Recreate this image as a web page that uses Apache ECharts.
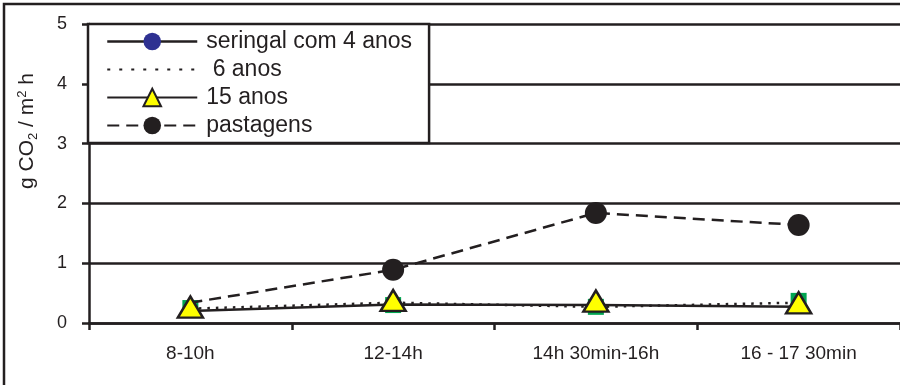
<!DOCTYPE html>
<html>
<head>
<meta charset="utf-8">
<script src="https://cdn.jsdelivr.net/npm/echarts@6/dist/echarts.min.js"></script>
<style>html,body{margin:0;padding:0;background:#fff;}#c{width:900px;height:385px;}</style>
</head>
<body>
<div id="c"></div>
<script>
var categories = ['8-10h', '12-14h', '14h 30min-16h', '16 - 17 30min'];
var seringal4 = [0.25, 0.30, 0.27, 0.37];
var anos6 = [0.24, 0.34, 0.27, 0.34];
var anos15 = [0.20, 0.31, 0.30, 0.27];
var pastagens = [0.34, 0.89, 1.84, 1.64];
var yTicks = [0, 1, 2, 3, 4, 5];

var ink = '#231f20';
var font = 'Liberation Sans, Arial, sans-serif';

var chart = echarts.init(document.getElementById('c'), null, {renderer: 'canvas'});
chart.setOption({
  animation: false,
  backgroundColor: '#fff',
  textStyle: {fontFamily: font, color: ink},
  grid: {left: 89, top: 24, width: 820, height: 299},
  xAxis: {
    type: 'category',
    data: categories,
    boundaryGap: true,
    axisLine: {lineStyle: {color: ink, width: 2.5}},
    axisTick: {show: true, length: 7, lineStyle: {color: ink, width: 2.5}},
    axisLabel: {fontSize: 19, color: ink, margin: 21, fontFamily: font}
  },
  yAxis: {
    type: 'value',
    min: yTicks[0], max: yTicks[yTicks.length - 1], interval: 1,
    axisLine: {show: true, lineStyle: {color: ink, width: 2.5}},
    axisTick: {show: true, length: 7, lineStyle: {color: ink, width: 2.5}},
    axisLabel: {fontSize: 18, color: ink, margin: 22, fontFamily: font},
    splitLine: {show: true, lineStyle: {color: ink, width: 2.5}}
  },
  legend: {
    orient: 'vertical',
    left: 88, top: 24,
    padding: [6, 17, 6, 18],
    itemWidth: 90, itemHeight: 22, itemGap: 5,
    backgroundColor: '#fff',
    borderColor: ink, borderWidth: 2.5,
    textStyle: {fontSize: 23, color: ink, fontFamily: font, padding: [0, 0, 0, 4]},
    data: [
      {name: 'seringal com 4 anos',
       itemStyle: {color: '#2e3192', borderWidth: 0, opacity: 1},
       lineStyle: {color: ink, width: 2.5, type: 'solid', opacity: 1}},
      {name: ' 6 anos', itemStyle: {opacity: 0}, lineStyle: {type: [3, 9]}},
      {name: '15 anos'},
      {name: 'pastagens'}
    ]
  },
  graphic: [
    {type: 'rect', shape: {x: 4, y: 4, width: 1000, height: 500},
     style: {fill: 'none', stroke: ink, lineWidth: 2.5}, z: 100, silent: true},
    {type: 'text', x: 27, y: 131, rotation: Math.PI / 2,
     style: {
       text: '{a|g CO}{s|2}{a| / m}{p|2}{a| h}',
       align: 'center', verticalAlign: 'middle',
       rich: {
         a: {fontSize: 21, fill: ink, fontFamily: font},
         s: {fontSize: 13, fill: ink, fontFamily: font, padding: [12, 0, 0, 0]},
         p: {fontSize: 13, fill: ink, fontFamily: font, padding: [0, 0, 10, 0]}
       }
     }}
  ],
  series: [
    {name: 'seringal com 4 anos', type: 'line',
     data: seringal4.map(function (v) { return {value: v, symbol: 'rect'}; }),
     symbol: 'circle', symbolSize: 16,
     itemStyle: {color: '#00a651', borderWidth: 0},
     lineStyle: {color: 'rgba(0,0,0,0)', width: 2.5}, z: 2},
    {name: ' 6 anos', type: 'line', data: anos6,
     symbol: 'none',
     itemStyle: {color: ink},
     lineStyle: {color: ink, width: 2.5, type: [2.5, 6]}, z: 3},
    {name: '15 anos', type: 'line', data: anos15,
     symbol: 'triangle', symbolSize: [25, 21], symbolOffset: [0, -4],
     itemStyle: {color: '#ffff00', borderColor: ink, borderWidth: 2.5},
     lineStyle: {color: ink, width: 2.5, type: 'solid'}, z: 4},
    {name: 'pastagens', type: 'line',
     data: pastagens.map(function (v, i) { return i === 0 ? {value: v, symbol: 'none'} : v; }),
     symbol: 'circle', symbolSize: 22,
     itemStyle: {color: ink, borderWidth: 0},
     lineStyle: {color: ink, width: 2.5, type: [12, 7]}, z: 3}
  ]
});
</script>
</body>
</html>
